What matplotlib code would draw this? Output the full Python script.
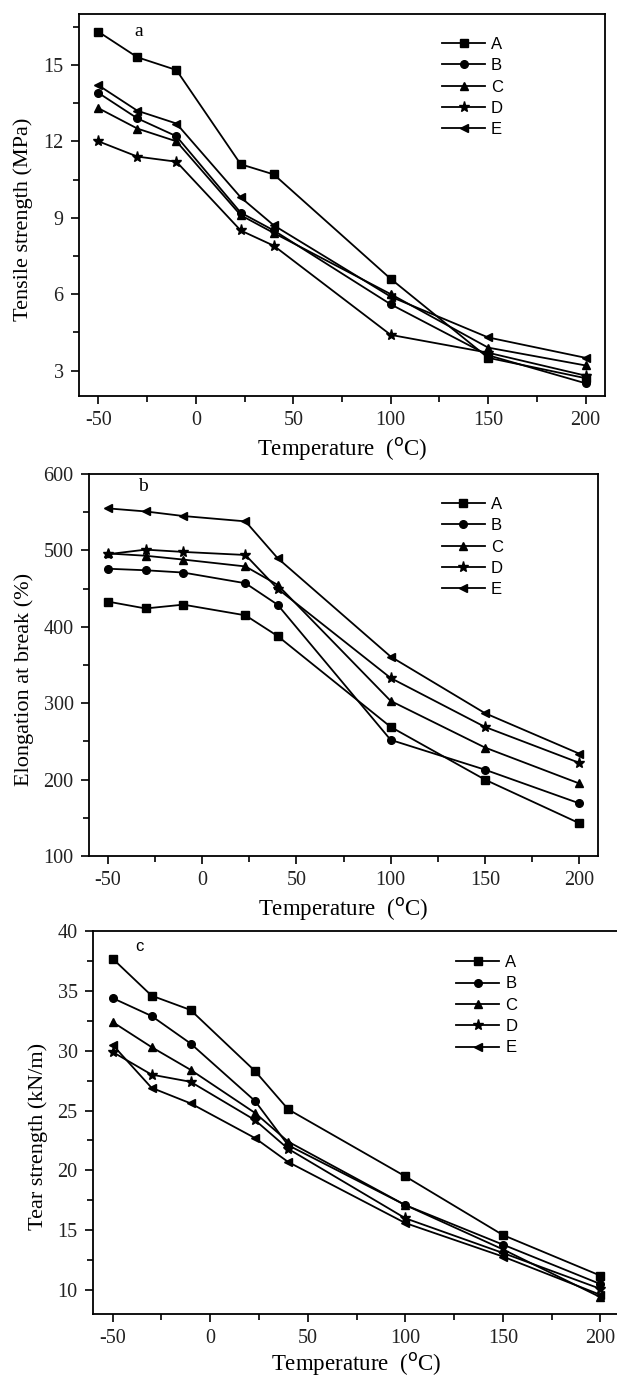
import matplotlib
matplotlib.use('Agg')
import matplotlib.pyplot as plt
from matplotlib.ticker import MultipleLocator

plt.rcParams['axes.unicode_minus'] = False

# temperatures (oC)
temp = [-50, -30, -10, 23, 40, 100, 150, 200]
names = ['A', 'B', 'C', 'D', 'E']
marks = ['s', 'o', '^', '*', '<']

# a: tensile strength (MPa)
tensile = {
    'A': [16.3, 15.3, 14.8, 11.1, 10.7, 6.6, 3.5, 2.7],
    'B': [13.9, 12.9, 12.2, 9.2, 8.5, 5.6, 3.6, 2.5],
    'C': [13.3, 12.5, 12.0, 9.1, 8.4, 6.0, 3.9, 3.2],
    'D': [12.0, 11.4, 11.2, 8.5, 7.9, 4.4, 3.7, 2.8],
    'E': [14.2, 13.2, 12.7, 9.8, 8.7, 5.9, 4.3, 3.5],
}
# b: elongation at break (%)
elong = {
    'A': [433, 424, 429, 415, 388, 269, 200, 143],
    'B': [476, 474, 471, 457, 429, 252, 213, 169],
    'C': [496, 493, 488, 479, 455, 303, 242, 195],
    'D': [495, 501, 498, 494, 450, 333, 269, 222],
    'E': [555, 551, 545, 538, 490, 361, 287, 234],
}
# c: tear strength (kN/m)
tear = {
    'A': [37.7, 34.6, 33.4, 28.3, 25.1, 19.5, 14.6, 11.2],
    'B': [34.4, 32.9, 30.6, 25.8, 22.1, 17.1, 13.8, 10.5],
    'C': [32.4, 30.3, 28.4, 24.8, 22.4, 17.1, 13.4, 9.4],
    'D': [29.9, 28.0, 27.4, 24.2, 21.8, 16.0, 13.1, 10.1],
    'E': [30.5, 26.9, 25.6, 22.7, 20.7, 15.6, 12.8, 9.6],
}

W, H = 617, 1379
fig = plt.figure(figsize=(W / 100, H / 100), dpi=100)

serif = 'Liberation Serif'
sans = 'Liberation Sans'
xlab = r'Temperature  ($^{\mathrm{o}}$C)'


def box(l, r, t, b):
    return [l / W, 1 - b / H, (r - l) / W, (b - t) / H]


panels = [
    (box(79, 605, 14, 396), tensile, 'Tensile strength (MPa)', (2, 17), 3, 1.5,
     'a', (0.114, 0.953), serif, (0.690, 0.940), -0.088, 4),
    (box(89, 598, 474, 856), elong, 'Elongation at break (%)', (100, 600), 100, 50,
     'b', (0.105, 0.967), serif, (0.693, 0.940), -0.108, 4),
    (box(93, 620, 931, 1314), tear, 'Tear strength (kN/m)', (8, 40), 5, 2.5,
     'c', (0.088, 0.960), sans, (0.689, 0.937), -0.085, 2),
]

for pos, data, ylab, ylim, major, minor, tag, tagpos, tagfont, legpos, ylx, xpad in panels:
    ax = fig.add_axes(pos)
    for n, m in zip(names, marks):
        ms = 8 if m == '*' else 5.5
        ax.plot(temp, data[n], color='black', lw=1.3, marker=m, ms=ms, label=n)
    ax.set_xlim(-60, 210)
    ax.set_ylim(*ylim)
    ax.xaxis.set_major_locator(MultipleLocator(50))
    ax.xaxis.set_minor_locator(MultipleLocator(25))
    ax.yaxis.set_major_locator(MultipleLocator(major))
    ax.yaxis.set_minor_locator(MultipleLocator(minor))
    ax.tick_params(which='major', direction='out', length=6, width=1.2,
                   labelsize=14.5, pad=5)
    ax.tick_params(which='minor', direction='out', length=4, width=1.2)
    for lab in ax.get_xticklabels() + ax.get_yticklabels():
        lab.set_fontfamily(serif)
        lab.set_color('#222222')
    for s in ax.spines.values():
        s.set_linewidth(1.3)
    ax.set_xlabel(xlab, fontsize=16.5, family=serif, labelpad=xpad)
    ax.set_ylabel(ylab, fontsize=16, family=serif)
    ax.yaxis.set_label_coords(ylx, 0.463)
    ax.text(tagpos[0], tagpos[1], tag, transform=ax.transAxes,
            fontsize=14 if tagfont == serif else 12, family=tagfont,
            ha='center', va='center')
    ax.legend(loc='upper left', bbox_to_anchor=legpos, frameon=False,
              prop={'family': sans, 'size': 12}, numpoints=1, borderpad=0,
              handlelength=2.6, handletextpad=0.35, labelspacing=0.38,
              borderaxespad=0)

fig.savefig('out.png', dpi=100)
